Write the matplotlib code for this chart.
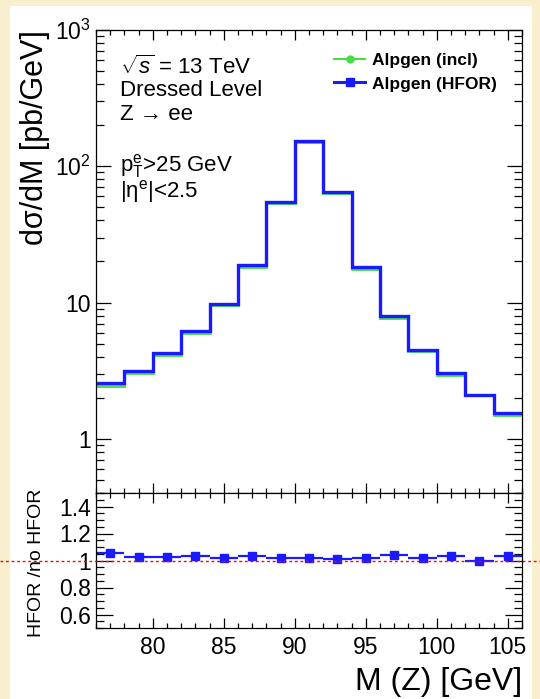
import matplotlib
matplotlib.use("Agg")
import matplotlib.pyplot as plt
import matplotlib.ticker as mticker
from matplotlib.lines import Line2D
from matplotlib.patches import Rectangle
import numpy as np

plt.rcParams['font.family'] = ['Liberation Sans', 'DejaVu Sans']
plt.rcParams['mathtext.fontset'] = 'custom'
plt.rcParams['mathtext.rm'] = 'Liberation Sans'
plt.rcParams['mathtext.it'] = 'Liberation Sans:italic'

# bin edges of M(Z) [GeV]
bin_lo = [76, 78, 80, 82, 84, 86, 88, 90, 92, 94, 96, 98, 100, 102, 104]
bin_hi = [78, 80, 82, 84, 86, 88, 90, 92, 94, 96, 98, 100, 102, 104, 106]
# dsigma/dM, Alpgen (HFOR)
xs_hfor = [2.58, 3.14, 4.24, 6.14, 9.8, 18.7, 54.8, 154, 64.6, 18.1, 8.0, 4.5, 3.02, 2.08, 1.54]
# ratio HFOR / no HFOR
ratio = [1.052, 1.025, 1.025, 1.032, 1.022, 1.032, 1.022, 1.022, 1.012, 1.022,
         1.040, 1.015, 1.032, 0.995, 1.032]
xs_incl = [h / r for h, r in zip(xs_hfor, ratio)]

W, H = 540, 699
fig = plt.figure(figsize=(W / 100, H / 100), dpi=100)
fig.patch.set_facecolor("#F9EFCF")
fig.patches.append(Rectangle((10 / W, 0), 522 / W, 1 - 6 / H, transform=fig.transFigure,
                             facecolor="white", edgecolor="none", zorder=-10))

L, R = 96 / W, 522 / W
ax = fig.add_axes([L, 1 - 493 / H, R - L, (493 - 30) / H])
rax = fig.add_axes([L, 1 - 628 / H, R - L, (628 - 493) / H])

edges = bin_lo + [bin_hi[-1]]
ax.stairs(xs_incl, edges, color="#44dd44", lw=2.0, baseline=None)
ax.stairs(xs_hfor, edges, color="#1a1aff", lw=2.4, baseline=None)
ax.set_yscale("log")
ax.set_xlim(76, 106)
ax.set_ylim(0.4, 1000)
ax.yaxis.set_major_locator(mticker.FixedLocator([1, 10, 100, 1000]))
ax.yaxis.set_major_formatter(mticker.FixedFormatter(["1", "10", "$10^{2}$", "$10^{3}$"]))
ax.yaxis.set_minor_locator(mticker.LogLocator(base=10, subs=np.arange(2, 10)))
ax.yaxis.set_minor_formatter(mticker.NullFormatter())
ax.xaxis.set_major_locator(mticker.MultipleLocator(5))
ax.xaxis.set_minor_locator(mticker.MultipleLocator(1))
ax.tick_params(axis="both", which="both", direction="in", top=True, right=True,
               labelbottom=False, labelsize=16.5, width=0.9)
ax.tick_params(axis="y", which="major", length=11)
ax.tick_params(axis="y", which="minor", length=5.5)
ax.tick_params(axis="x", which="major", length=7)
ax.tick_params(axis="x", which="minor", length=3.5)
for s in ax.spines.values():
    s.set_linewidth(0.9)

handles = [Line2D([], [], color="#44dd44", lw=1.5, marker="o", ms=5),
           Line2D([], [], color="#1a1aff", lw=2.2, marker="s", ms=5.5)]
ax.legend(handles, ["Alpgen (incl)", "Alpgen (HFOR)"], loc="upper right",
          bbox_to_anchor=(0.978, 0.985), frameon=False, handlelength=1.8,
          handletextpad=0.4, labelspacing=0.5, prop={"weight": "bold", "size": 12.5})

tx = 120 / W
fig.text(tx, 1 - 67 / H, r"$\sqrt{s}$ = 13 TeV", fontsize=16, va="center")
fig.text(tx, 1 - 90 / H, "Dressed Level", fontsize=16, va="center")
fig.text(tx, 1 - 115 / H, "Z → ee", fontsize=16, va="center")
fig.text(tx, 1 - 166 / H, r"p$_{\mathrm{T}}^{\mathrm{e}}$>25 GeV", fontsize=16, va="center")
fig.text(tx, 1 - 191 / H, r"|η$^{\mathrm{e}}$|<2.5", fontsize=16, va="center")

fig.text(35 / W, 1 - 30 / H, "dσ/dM [pb/GeV]", rotation=90, fontsize=22,
         ha="center", va="top")

# ratio panel
centers = [(a + b) / 2 for a, b in zip(bin_lo, bin_hi)]
halfw = [(b - a) / 2 for a, b in zip(bin_lo, bin_hi)]
rax.errorbar(centers, ratio, xerr=halfw, fmt="s", color="#1a1aff", ms=6, lw=1.6,
             capsize=0)
rax.set_xlim(76, 106)
rax.set_ylim(0.5, 1.5)
rax.yaxis.set_major_locator(mticker.FixedLocator([0.6, 0.8, 1.0, 1.2, 1.4]))
rax.yaxis.set_major_formatter(mticker.FixedFormatter(["0.6", "0.8", "1", "1.2", "1.4"]))
rax.yaxis.set_minor_locator(mticker.MultipleLocator(0.05))
rax.xaxis.set_major_locator(mticker.MultipleLocator(5))
rax.xaxis.set_minor_locator(mticker.MultipleLocator(1))
rax.tick_params(axis="both", which="both", direction="in", top=True, right=True,
                labelsize=16.5, width=0.9)
rax.tick_params(axis="y", which="major", length=12)
rax.tick_params(axis="y", which="minor", length=6)
rax.tick_params(axis="x", which="major", length=7)
rax.tick_params(axis="x", which="minor", length=3.5)
rax.tick_params(axis="x", which="major", pad=6)
for s in rax.spines.values():
    s.set_linewidth(0.9)

# dotted reference line at ratio = 1 running across the whole canvas
y1 = rax.transData.transform((0, 1.0))[1] / H
fig.add_artist(Line2D([0, 1], [y1, y1], transform=fig.transFigure, color="red",
                      lw=1.0, ls=(0, (2, 2))))

fig.text(37 / W, 1 - 563 / H, "HFOR /no HFOR", rotation=90, fontsize=14,
         ha="center", va="center")
fig.text(R, 1 - 682 / H, "M (Z) [GeV]", fontsize=23, ha="right", va="center")

fig.savefig("out.png", dpi=100, facecolor=fig.get_facecolor())
